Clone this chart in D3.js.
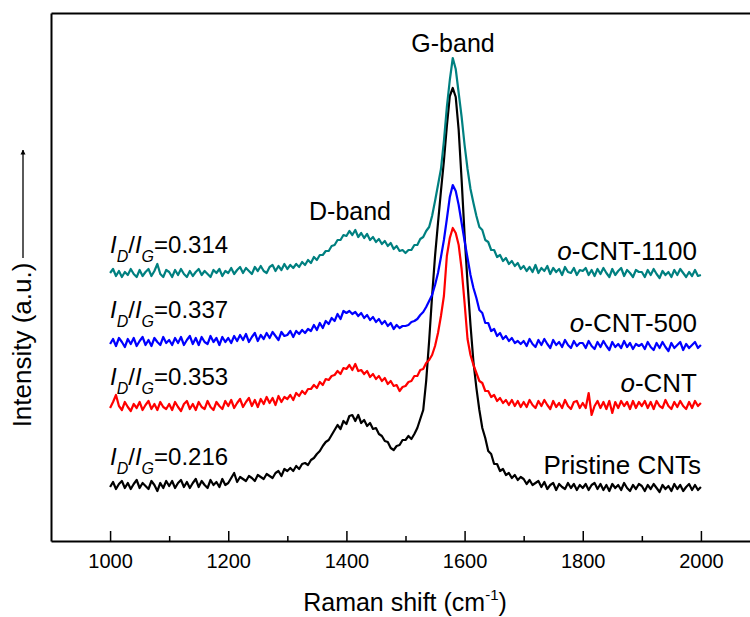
<!DOCTYPE html>
<html lang="en">
<head>
<meta charset="UTF-8">
<title>Raman spectra</title>
<script src="https://d3js.org/d3.v7.min.js"></script>
<style>
  body { margin: 0; background: #fff; }
  svg text { font-family: "Liberation Sans", Arial, sans-serif; fill: #000; }
</style>
</head>
<body>
<script>
// Raman shift grid: first point and spacing (cm-1)
var shiftStart = 1000;
var shiftStep = 5;

// intensities (a.u., stacked offsets kept), 1000..2000 every 5 cm-1
var pristine = [
  54,59,52,57,60,53,58,52,57,61,53,58,55,52,60,56,50,58,53,60,
  55,60,53,58,61,54,59,53,58,62,54,60,56,53,61,56,59,54,62,56,
  58,63,68,59,64,62,60,65,63,60,66,64,62,67,65,63,68,70,65,72,
  70,73,70,75,72,77,78,76,81,83,87,90,95,99,101,106,111,116,112,120,
  117,125,126,120,126,118,121,115,118,112,113,107,105,100,99,93,91,95,96,101,
  101,105,102,107,113,122,131,160,200,245,285,318,350,380,415,445,453,444,411,361,
  306,258,216,179,153,131,113,103,90,87,77,77,70,72,66,68,63,66,61,64,
  62,57,61,56,58,60,54,59,52,56,58,51,57,54,52,58,53,57,51,56,
  53,57,51,56,58,52,57,51,56,50,57,53,56,51,58,53,50,56,52,57,
  55,50,56,52,57,53,49,56,52,55,50,57,52,56,50,54,57,51,56,51,
  54];
var oCNT = [
  133,139,146,135,131,139,134,130,137,133,139,131,136,140,132,137,131,139,134,132,
  137,131,139,134,130,137,140,132,137,131,139,134,132,140,134,131,139,135,132,140,
  135,141,133,138,142,134,139,143,135,141,134,142,137,144,138,143,136,145,139,144,
  142,146,141,148,145,150,147,152,152,156,153,159,156,162,161,165,166,170,167,173,
  172,176,171,177,170,171,167,170,164,167,162,165,160,163,157,160,155,156,150,154,
  155,159,160,165,165,171,172,178,181,186,195,208,225,245,285,303,313,308,296,272,
  238,202,186,176,168,160,158,150,150,144,146,140,143,138,141,136,141,135,140,134,
  139,134,141,136,133,140,135,141,136,132,140,134,138,133,141,135,132,139,140,133,
  138,133,148,126,135,140,133,139,132,140,128,139,133,140,135,139,132,140,133,139,
  135,140,133,139,132,140,135,133,141,135,132,139,134,140,135,132,139,133,140,135,
  138];
var oCNT500 = [
  197,202,195,203,199,194,202,197,203,195,200,204,196,201,195,203,199,196,204,198,
  201,196,203,198,204,196,201,205,197,203,196,204,199,197,205,199,203,196,204,199,
  203,198,205,200,206,201,207,199,204,208,200,206,202,208,203,209,205,201,209,205,
  206,210,204,210,207,211,208,212,210,216,211,218,213,220,217,223,220,227,222,230,
  228,230,227,229,225,228,223,226,221,224,219,222,217,220,215,218,212,216,213,215,
  215,216,219,220,222,226,229,234,240,246,256,268,284,301,322,344,356,350,336,318,
  300,283,266,253,243,231,228,218,218,210,212,205,208,202,205,200,203,198,200,197,
  200,195,202,197,194,201,196,202,197,193,201,196,199,194,201,196,193,200,195,198,
  198,193,200,195,192,199,194,200,195,191,199,194,197,193,200,194,198,192,197,195,
  197,192,199,194,191,198,193,199,194,190,198,193,196,199,191,197,193,196,199,193,
  196];
var oCNT1100 = [
  268,272,265,270,264,269,266,272,267,264,271,265,269,272,265,270,277,267,264,271,
  269,264,271,266,272,267,264,270,265,269,272,266,270,267,264,271,268,272,265,270,
  268,273,267,271,274,268,273,270,267,274,270,275,270,268,274,276,270,275,271,277,
  272,276,273,277,274,279,276,281,278,284,281,286,286,290,290,295,296,301,301,306,
  305,310,306,311,304,308,303,307,301,304,299,302,297,300,295,298,292,295,290,291,
  288,291,291,296,296,302,304,310,314,325,340,356,372,400,434,461,483,472,448,424,
  396,372,352,338,325,314,311,301,299,291,291,284,286,280,283,277,280,275,278,272,
  275,270,274,269,276,268,273,270,275,267,273,269,272,266,274,269,268,273,266,271,
  270,273,266,271,265,272,267,273,268,264,272,266,270,273,265,271,268,264,271,269,
  269,264,271,266,272,267,263,270,266,269,264,271,266,272,268,264,269,265,271,265,
  266];

var seriesNames = ["Pristine CNTs", "o-CNT", "o-CNT-500", "o-CNT-1100"];
var seriesColors = ["#000000", "#ff0000", "#0000ff", "#008080"];
var ratioLabels = ["0.216", "0.353", "0.337", "0.314"];
var majorTicks = [1000, 1200, 1400, 1600, 1800, 2000];
var minorTicks = [1100, 1300, 1500, 1700, 1900];

var allSeries = [pristine, oCNT, oCNT500, oCNT1100];

var width = 750, height = 617;
var svg = d3.select("body")
  .append("svg")
  .attr("width", width)
  .attr("height", height);

var x = d3.scaleLinear()
  .domain([900, 2100])
  .range([51, 760]);
var y = d3.scaleLinear()
  .domain([0, 528])
  .range([541, 13]);

var line = d3.line()
  .x(function (d, i) { return x(shiftStart + i * shiftStep); })
  .y(function (d) { return y(d); });

svg.selectAll("path.spec")
  .data(allSeries)
  .enter()
  .append("path")
  .attr("class", "spec")
  .attr("d", line)
  .attr("fill", "none")
  .attr("stroke", function (d, i) { return seriesColors[i]; })
  .attr("stroke-width", 2.2)
  .attr("stroke-linejoin", "round");

// axes / frame
var gx = svg.append("g")
  .attr("transform", "translate(0," + y(0) + ")")
  .call(d3.axisBottom(x).tickValues(majorTicks).tickSizeInner(-10).tickSizeOuter(0)
    .tickPadding(13).tickFormat(d3.format("d")));
gx.select(".domain").attr("stroke-width", 2);
gx.selectAll(".tick line").attr("stroke-width", 1.5);
gx.selectAll(".tick text").attr("font-size", 20).attr("font-family", null);

var gm = svg.append("g")
  .attr("transform", "translate(0," + y(0) + ")")
  .call(d3.axisBottom(x).tickValues(minorTicks).tickSizeInner(-5).tickSizeOuter(0).tickFormat(""));
gm.select(".domain").remove();
gm.selectAll(".tick line").attr("stroke-width", 1.5);

var gy = svg.append("g")
  .attr("transform", "translate(" + x(900) + ",0)")
  .call(d3.axisLeft(y).tickValues([]).tickSizeOuter(0));
gy.select(".domain").attr("stroke-width", 2);

var gt = svg.append("g")
  .attr("transform", "translate(0," + y(528) + ")")
  .call(d3.axisTop(x).tickValues([]).tickSizeOuter(0));
gt.select(".domain").attr("stroke-width", 2);

// axis titles
var xt = svg.append("text")
  .attr("x", 405).attr("y", 611)
  .attr("text-anchor", "middle")
  .attr("font-size", 25);
xt.append("tspan").text("Raman shift (cm");
xt.append("tspan").attr("font-size", 15).attr("dy", -11).text("-1");
xt.append("tspan").attr("dy", 11).text(")");

svg.append("defs").append("marker")
  .attr("id", "arr")
  .attr("viewBox", "0 0 10 10")
  .attr("refX", 9).attr("refY", 5)
  .attr("markerWidth", 5).attr("markerHeight", 7)
  .attr("markerUnits", "userSpaceOnUse")
  .attr("orient", "auto")
  .append("path")
  .attr("d", "M0,0L10,5L0,10Z")
  .attr("fill", "#000");

svg.append("line")
  .attr("x1", 23).attr("y1", 258)
  .attr("x2", 23).attr("y2", 150)
  .attr("stroke", "#000")
  .attr("stroke-width", 1.3)
  .attr("marker-end", "url(#arr)");

svg.append("text")
  .attr("transform", "translate(31,345) rotate(-90)")
  .attr("text-anchor", "middle")
  .attr("font-size", 26)
  .text("Intensity (a.u.)");

// band labels
svg.append("text").attr("x", 350).attr("y", 220).attr("text-anchor", "middle")
  .attr("font-size", 25).text("D-band");
svg.append("text").attr("x", 453).attr("y", 52).attr("text-anchor", "middle")
  .attr("font-size", 25).text("G-band");

// ID/IG ratios on the left
var ratioY = [465, 385, 318, 253];
ratioLabels.forEach(function (r, i) {
  var t = svg.append("text").attr("x", 110).attr("y", ratioY[i]).attr("font-size", 24);
  t.append("tspan").attr("font-style", "italic").text("I");
  t.append("tspan").attr("font-style", "italic").attr("font-size", 16).attr("dy", 9).text("D");
  t.append("tspan").attr("dy", -9).text("/");
  t.append("tspan").attr("font-style", "italic").text("I");
  t.append("tspan").attr("font-style", "italic").attr("font-size", 16).attr("dy", 9).text("G");
  t.append("tspan").attr("dy", -9).text("=" + r);
});

// sample names on the right
var nameY = [474, 392, 332, 260];
seriesNames.forEach(function (n, i) {
  var t = svg.append("text").attr("x", i == 0 ? 701 : 697).attr("y", nameY[i])
    .attr("text-anchor", "end").attr("font-size", 26);
  if (n.indexOf("o-") == 0) {
    t.append("tspan").attr("font-style", "italic").text("o");
    t.append("tspan").text(n.slice(1));
  } else {
    t.text(n);
  }
});
</script>
</body>
</html>
